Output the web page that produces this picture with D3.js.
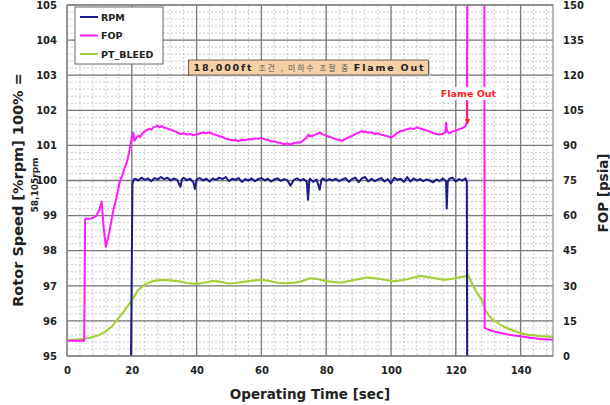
<!DOCTYPE html>
<html>
<head>
<meta charset="utf-8">
<script src="https://cdn.jsdelivr.net/npm/d3@7"></script>
<style>
  body { margin: 0; background: #fff; }
  text { font-family: "DejaVu Sans", Verdana, sans-serif; }
</style>
</head>
<body>
<svg id="chart" width="610" height="405"></svg>
<script>
// series values, [time sec, value]
var rpmData = [[19.3,90],[20.2,99.9],[20.5,100.02],[21,100.05],[22,100.0],[23,100.08],[24,100.02],[25,100.06],[26,99.98],[27,100.07],[28,100.03],[29,100.1],[30,100.04],[31,100.08],[32,100.0],[33,100.06],[34,100.02],[35,99.82],[35.5,100.04],[36,100.08],[37,100.01],[38,100.05],[39,99.95],[39.5,99.76],[40,100.03],[41,100.07],[42,100.0],[43,100.05],[44,99.97],[45,100.06],[46,100.02],[47,100.08],[48,100.04],[49,100.1],[50,99.98],[51,100.05],[52,100.02],[53,100.07],[54,99.96],[55,100.04],[56,100.0],[57,100.06],[58,99.98],[59,100.04],[60,100.07],[61,100.0],[62,100.05],[63,99.97],[64,100.03],[65,100.06],[66,99.99],[67,100.04],[68,100.01],[69,99.85],[70,100.02],[71,100.06],[72,100.0],[73,100.04],[74,99.97],[74.4,99.45],[74.8,100.0],[75,100.05],[76,99.96],[77,100.03],[78,99.74],[78.5,100.02],[79,100.06],[80,99.99],[81,100.04],[82,100.0],[83,100.05],[84,99.98],[85,100.03],[86,100.07],[87,99.96],[88,100.04],[89,100.08],[90,99.95],[91,100.06],[92,100.1],[93,99.97],[94,100.05],[95,99.98],[96,100.03],[97,100.07],[98,99.97],[99,100.04],[100,99.92],[101,100.08],[102,100.02],[103,100.05],[104,99.96],[105,100.1],[106,99.97],[107,100.06],[108,100.0],[109,100.04],[110,99.98],[111,100.03],[112,100.0],[113,99.95],[114,100.03],[115,99.98],[116,100.06],[117,99.97],[117.2,99.2],[117.5,99.95],[118,100.05],[119,100.08],[120,99.97],[121,100.04],[122,100.0],[123,100.06],[123.4,99.97],[123.6,90]];

var fopData = [[0,6.5],[5.3,6.5],[5.6,58.5],[6,58.8],[7,58.6],[8,59],[9,59.8],[10,62.5],[10.7,66],[11.3,55],[12,46.7],[12.6,50],[13,52.5],[13.6,57],[14.3,62.4],[15,66],[15.6,70],[16.3,74.5],[17,77],[17.6,79.5],[18.4,82.4],[19,86],[19.7,91],[20,93.5],[20.4,95.5],[20.8,92],[21.3,93],[22,94.2],[22.6,93.6],[23.3,95.2],[24,96],[24.7,96.6],[25.4,97.1],[26,96.7],[26.7,97.8],[27.3,98],[28,98.5],[28.6,97.8],[29.3,98.3],[30,97.5],[31,97.2],[32,96.7],[33,96.2],[34,95.6],[35,94.9],[36,95.2],[37,94.6],[38,94.9],[39,94.3],[40,94.8],[41,95.1],[42,95.5],[43,95.2],[44,95.6],[45,94.8],[46,94.5],[47,93.9],[48,93.6],[49,92.9],[50,92.6],[51,92.1],[52,92.3],[53,91.9],[54,92.4],[55,92.2],[56,92.7],[57,92.5],[58,93],[59,92.8],[60,93.2],[61,92.6],[62,92.3],[63,91.7],[64,91.8],[65,91.2],[66,91],[67,90.5],[68,90.8],[69,90.4],[70,90.9],[71,91.3],[72,91.1],[73,92.2],[74,93.5],[74.6,94.6],[75,93.8],[76,94.2],[77,94.8],[78,95.4],[79,94.7],[80,94.2],[81,93.6],[82,93.2],[83,92.6],[84,92.3],[85,92],[86,92.8],[87,93.5],[88,94.1],[89,94.8],[90,95.4],[91,96.2],[91.5,95.6],[92,96],[93,95.4],[94,95.6],[95,94.9],[96,95.2],[97,94.6],[98,94.2],[99,93.9],[100,93.4],[101,94.2],[102,95.4],[103,96.2],[104,96.4],[105,96.9],[106,97.3],[107,97],[108,97.7],[109,97.2],[110,96.8],[111,96.3],[112,95.9],[113,95.3],[114,94.9],[115,94.6],[116,95],[116.8,95.6],[117,99.7],[117.3,96],[118,95.2],[119,96],[120,96.3],[121,96.9],[122,97.4],[123,98.2],[123.4,100],[123.6,180],[128.8,180],[128.9,12],[130,11.3],[131,10.8],[132,10.4],[134,9.8],[136,9.2],[138,8.8],[140,8.4],[143,7.8],[146,7.3],[150,6.9]];

var bleedData = [[0,6.8],[3,7.0],[5,7.3],[7,7.8],[10,9],[12,10.5],[14,12.8],[15,14.7],[17,18],[19,21.8],[20,23.8],[22,28.2],[24,30.5],[25,31.2],[27,32.2],[30,32.5],[32,32.3],[35,31.8],[37,31.2],[40,30.8],[43,31.5],[45,32.1],[47,31.8],[50,31],[52,31.2],[55,31.8],[58,32.3],[60,32.5],[62,32.2],[65,31.3],[68,31.1],[70,31.3],[72,31.8],[75,33.2],[77,33],[80,32],[84.5,31.3],[88,32.3],[92.7,33.6],[96,33],[101,31.9],[105,32.8],[109,34.2],[112,33.6],[116.4,32.5],[119,33],[123.4,34.2],[124,34],[126,28.2],[128,24],[129.3,19],[131,16],[134,13.2],[136,11.8],[140,9.7],[142.4,9],[146,8.5],[150,8.2]];

var xTicks = [0, 20, 40, 60, 80, 100, 120, 140];
var leftTicks = [95, 96, 97, 98, 99, 100, 101, 102, 103, 104, 105];
var rightTicks = [0, 15, 30, 45, 60, 75, 90, 105, 120, 135, 150];
var legendNames = ["RPM", "FOP", "PT_BLEED"];
var colors = {RPM: "#1a1a8a", FOP: "#ff1aff", PT_BLEED: "#a6cf3a"};

var svg = d3.select("#chart"),
    margin = {top: 5, right: 57, bottom: 49, left: 67},
    width = 610 - margin.left - margin.right,
    height = 405 - margin.top - margin.bottom,
    g = svg.append("g").attr("transform", "translate(" + margin.left + "," + margin.top + ")");

var x = d3.scaleLinear().domain([0, 150]).range([0, width]);
var yL = d3.scaleLinear().domain([95, 105]).range([height, 0]);
var yR = d3.scaleLinear().domain([0, 150]).range([height, 0]);

// grid
var grid = g.append("g");
grid.selectAll(".vminor").data(d3.range(0, 151, 4)).enter().append("line")
    .attr("x1", d => x(d)).attr("x2", d => x(d)).attr("y1", 0).attr("y2", height)
    .attr("stroke", "#bdbdbd").attr("stroke-width", 0.8).attr("stroke-dasharray", "2,2");
grid.selectAll(".hminor").data(d3.range(95, 105.01, 0.2)).enter().append("line")
    .attr("x1", 0).attr("x2", width).attr("y1", d => yL(d)).attr("y2", d => yL(d))
    .attr("stroke", "#bdbdbd").attr("stroke-width", 0.8).attr("stroke-dasharray", "2,2");
grid.selectAll(".vmajor").data(xTicks).enter().append("line")
    .attr("x1", d => x(d)).attr("x2", d => x(d)).attr("y1", 0).attr("y2", height)
    .attr("stroke", "#7a7a7a").attr("stroke-width", 1.3);
grid.selectAll(".hmajor").data(leftTicks).enter().append("line")
    .attr("x1", 0).attr("x2", width).attr("y1", d => yL(d)).attr("y2", d => yL(d))
    .attr("stroke", "#7a7a7a").attr("stroke-width", 1.3);

// axes
function styleAxis(a) {
  a.select(".domain").remove();
  a.selectAll(".tick line").remove();
  a.selectAll(".tick text").attr("font-family", "DejaVu Sans").attr("font-weight", "bold")
    .attr("font-size", 10).attr("fill", "#222");
}
g.append("g").attr("transform", "translate(0," + height + ")")
    .call(d3.axisBottom(x).tickValues(xTicks).tickSize(0).tickPadding(11)).call(styleAxis);
g.append("g")
    .call(d3.axisLeft(yL).tickValues(leftTicks).tickSize(0).tickPadding(10)).call(styleAxis);
g.append("g").attr("transform", "translate(" + width + ",0)")
    .call(d3.axisRight(yR).tickValues(rightTicks).tickSize(0).tickPadding(10)).call(styleAxis);

// lines
g.append("clipPath").attr("id", "clip").append("rect").attr("width", width).attr("height", height);
var plot = g.append("g").attr("clip-path", "url(#clip)");

var lineL = d3.line().x(d => x(d[0])).y(d => yL(d[1]));
var lineR = d3.line().x(d => x(d[0])).y(d => yR(d[1]));

plot.append("path").datum(bleedData).attr("d", lineR)
    .attr("fill", "none").attr("stroke", colors.PT_BLEED).attr("stroke-width", 2.2);
plot.append("path").datum(rpmData).attr("d", lineL)
    .attr("fill", "none").attr("stroke", colors.RPM).attr("stroke-width", 2).attr("stroke-linejoin", "round");
plot.append("path").datum(fopData).attr("d", lineR)
    .attr("fill", "none").attr("stroke", colors.FOP).attr("stroke-width", 2).attr("stroke-linejoin", "round");

g.append("rect").attr("width", width).attr("height", height)
    .attr("fill", "none").attr("stroke", "#8a8a8a").attr("stroke-width", 1.2);

// legend
var lg = g.append("g").attr("transform", "translate(8,2)");
lg.append("rect").attr("width", 88).attr("height", 57).attr("fill", "#fff").attr("stroke", "#666");
legendNames.forEach(function(n, i) {
  lg.append("line").attr("x1", 5).attr("x2", 23).attr("y1", 10 + i * 18.5).attr("y2", 10 + i * 18.5)
    .attr("stroke", colors[n]).attr("stroke-width", 2);
  lg.append("text").attr("x", 26).attr("y", 13.5 + i * 18.5).text(n)
    .attr("font-size", 9.5).attr("font-weight", "bold").attr("fill", "#222");
});

// annotation box
var ann = g.append("g").attr("transform", "translate(" + (x(37.5)) + ",55)");
ann.append("rect").attr("x", 1.5).attr("y", 1.5).attr("width", 240).attr("height", 15).attr("fill", "#c9c9c9");
ann.append("rect").attr("width", 240).attr("height", 15).attr("fill", "#f6d0a6").attr("stroke", "#444").attr("stroke-width", 0.8);
var at = ann.append("text").attr("x", 5).attr("y", 11).attr("font-size", 9.5).attr("fill", "#222")
    .attr("textLength", 230).attr("lengthAdjust", "spacing");
at.append("tspan").attr("font-weight", "bold").text("18,000ft ");
at.append("tspan").attr("font-family", "Noto Sans CJK KR").attr("font-size", 8).attr("fill", "#555").text("조건  , 미하수  조절  중  ");
at.append("tspan").attr("font-weight", "bold").text("Flame Out");

// flame out label
var fx = x(123.6);
var fo = g.append("g");
fo.append("rect").attr("x", fx - 31).attr("y", 82).attr("width", 64).attr("height", 13).attr("fill", "#fff");
fo.append("text").attr("x", fx + 1).attr("y", 92).attr("text-anchor", "middle")
    .attr("font-size", 9.5).attr("font-weight", "bold").attr("fill", "#ff2020").text("Flame Out");
fo.append("line").attr("x1", fx).attr("x2", fx).attr("y1", 97).attr("y2", 116)
    .attr("stroke", "#ff2020").attr("stroke-width", 1.2);
fo.append("path").attr("d", "M" + (fx - 2.5) + ",114 L" + (fx + 2.5) + ",114 L" + fx + ",120 Z").attr("fill", "#ff2020");

// axis titles
svg.append("text").attr("x", margin.left + width / 2).attr("y", 399).attr("text-anchor", "middle")
    .attr("font-size", 13.5).attr("font-weight", "bold").attr("fill", "#222").text("Operating Time [sec]");
svg.append("text").attr("transform", "translate(23,190) rotate(-90)").attr("text-anchor", "middle")
    .attr("font-size", 14.5).attr("font-weight", "bold").attr("fill", "#222").text("Rotor Speed [%rpm] 100% =");
svg.append("text").attr("transform", "translate(38,185) rotate(-90)").attr("text-anchor", "middle")
    .attr("font-size", 9).attr("font-weight", "bold").attr("fill", "#222").text("58,105rpm");
svg.append("text").attr("transform", "translate(608,193) rotate(-90)").attr("text-anchor", "middle")
    .attr("font-size", 13.5).attr("font-weight", "bold").attr("fill", "#222").text("FOP [psia]");
</script>
</body>
</html>
